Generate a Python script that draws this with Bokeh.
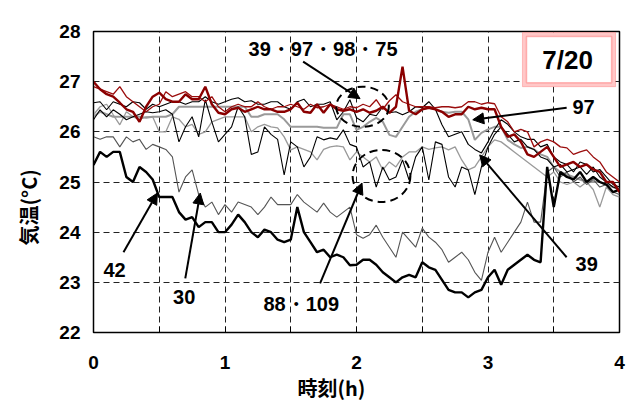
from bokeh.plotting import figure
from bokeh.models import Range1d, FixedTicker, Arrow, NormalHead, Label, BoxAnnotation, Title
from bokeh.embed import file_html
from bokeh.resources import INLINE

# sampling times: every 3 minutes over 4 hours
minutes = list(range(0, 241, 3))
hours = [m / 60 for m in minutes]

s42 = [25.34, 25.6, 25.5, 25.6, 25.6, 25.1, 25.0, 25.3, 25.2, 25.05,
       24.7, 24.7, 24.7, 24.4, 24.25, 24.3, 24.1, 24.2, 24.2, 24.0,
       24.0, 24.15, 24.35, 24.2, 24.0, 23.9, 24.05, 24.0, 23.85, 23.8,
       23.85, 24.5, 24.0, 23.8, 23.6, 23.65, 23.5, 23.55, 23.5, 23.34,
       23.35, 23.45, 23.45, 23.35, 23.2, 23.1, 23.0, 23.1, 23.15, 23.1,
       23.4, 23.3, 23.25, 23.05, 22.85, 22.8, 22.8, 22.7, 22.8, 22.85,
       23.1, 23.25, 22.95, 23.25, 23.35, 23.45, 23.55, 23.45, 23.4, 25.3,
       24.5, 25.2, 25.1, 25.05, 25.2, 25.0, 25.1, 25.0, 24.95, 24.8,
       24.85]

s30 = [25.9, 25.85, 25.9, 25.9, 25.7, 25.9, 25.8, 25.85, 25.65, 25.75,
       25.7, 25.65, 25.5, 24.8, 25.1, 25.24, 24.75, 24.5, 24.6, 24.35,
       24.55, 24.4, 24.6, 24.55, 24.5, 24.35, 24.5, 24.7, 24.55, 24.55,
       24.55, 24.75, 24.6, 24.5, 24.4, 24.58, 24.4, 24.3, 24.4, 24.5,
       23.95, 23.88, 23.95, 24.14, 23.9, 23.7, 23.5, 24.0, 23.85, 23.7,
       24.08, 23.9, 23.8, 23.65, 23.4, 23.5, 23.6, 23.45, 23.2, 23.04,
       23.6, 23.9, 23.6, 23.8, 24.0, 24.2, 24.6, 24.2, 24.2, 25.2,
       25.3, 25.1, 25.2, 25.0, 25.1, 24.95, 25.05, 24.9, 24.95, 24.8,
       24.75]

s88 = [26.24, 26.44, 26.3, 26.44, 26.35, 26.24, 26.3, 26.35, 26.4, 26.38,
       26.4, 26.44, 26.35, 25.8, 26.1, 26.3, 25.9, 26.64, 26.2, 25.8,
       25.95, 26.1, 26.5, 26.3, 25.55, 25.6, 26.1, 25.95, 25.85, 25.14,
       25.8, 25.7, 25.3, 25.5, 25.9, 25.84, 25.88, 25.85, 26.04, 25.75,
       25.7, 25.3, 25.4, 24.9, 25.3, 25.04, 25.1, 25.44, 25.04, 25.5,
       25.7, 25.04, 25.8, 25.75, 25.1, 24.9, 25.3, 25.24, 24.75, 25.3,
       25.7, 25.95, 26.1, 25.95, 25.8, 25.85, 25.7, 25.65, 25.5, 25.45,
       25.3, 25.35, 25.2, 25.25, 25.3, 25.15, 25.3, 25.1, 25.0, 24.9,
       24.85]

s109 = [26.34, 26.5, 26.55, 26.34, 26.14, 26.4, 26.3, 26.25, 26.3, 26.3,
        26.0, 26.0, 26.3, 26.25, 26.1, 26.15, 25.95, 26.0, 26.2, 26.25,
        26.3, 26.3, 26.3, 26.3, 26.0, 26.1, 26.15, 26.1, 26.08, 25.9,
        25.64, 25.7, 25.65, 25.6, 25.44, 25.65, 25.7, 25.72, 25.7, 25.44,
        25.6, 25.5, 25.4, 25.5, 25.24, 25.4, 25.3, 25.5, 25.6, 25.6,
        25.7, 25.65, 25.68, 25.7, 25.64, 25.7, 25.44, 25.24, 25.3, 25.5,
        25.7, 25.84, 25.8, 25.7, 25.6, 25.5, 25.4, 25.3, 25.2, 25.1,
        25.2, 25.0, 24.95, 25.0, 24.9, 25.0, 24.85, 24.5, 24.9, 24.75,
        24.7]

s97 = [26.3, 26.4, 26.35, 26.3, 26.3, 26.3, 26.3, 26.3, 26.28, 26.3,
       26.3, 26.3, 26.35, 26.5, 26.5, 26.5, 26.5, 26.5, 26.5, 26.5,
       26.5, 26.5, 26.5, 26.5, 26.3, 26.3, 26.35, 26.35, 26.35, 26.25,
       26.1, 26.1, 26.1, 26.1, 26.1, 26.08, 26.08, 26.08, 26.35, 26.35,
       26.04, 26.1, 26.2, 26.28, 26.2, 25.94, 25.9, 26.1, 26.3, 26.4,
       26.45, 26.48, 26.45, 26.4, 26.38, 26.4, 26.4, 26.25, 25.84, 25.98,
       26.05, 26.1, 26.1, 25.84, 25.75, 25.68, 25.7, 25.65, 25.55, 25.5,
       25.3, 25.2, 25.15, 25.1, 25.05, 25.0, 25.0, 25.0, 24.95, 24.9,
       24.85]

s39 = [26.58, 26.6, 26.44, 26.6, 26.55, 26.5, 26.6, 26.58, 26.45, 26.55,
       26.5, 26.55, 26.6, 26.6, 26.55, 26.6, 26.6, 26.7, 26.6, 26.55,
       26.6, 26.65, 26.68, 26.6, 26.62, 26.55, 26.55, 26.6, 26.6, 26.5,
       26.45, 26.6, 26.65, 26.5, 26.55, 26.55, 26.6, 26.24, 26.4, 26.64,
       26.28, 26.2, 26.35, 26.32, 26.5, 26.38, 26.4, 26.34, 26.4, 26.5,
       26.48, 26.6, 26.45, 26.14, 25.9, 25.95, 26.0, 25.75, 25.65, 25.58,
       25.8, 26.05, 26.24, 26.15, 26.0, 25.9, 25.85, 25.85, 25.7, 25.75,
       25.5, 25.4, 25.35, 25.2, 25.4, 25.35, 25.2, 25.25, 25.1, 24.95,
       24.9]

s98 = [27.0, 26.85, 26.75, 26.7, 26.58, 26.45, 26.4, 26.2, 26.5, 26.7,
       26.78, 26.65, 26.6, 26.6, 26.75, 26.65, 26.65, 26.9, 26.55, 26.38,
       26.35, 26.45, 26.48, 26.4, 26.45, 26.5, 26.45, 26.45, 26.4, 26.4,
       26.45, 26.58, 26.4, 26.38, 26.55, 26.38, 26.55, 26.45, 26.42, 26.45,
       26.4, 26.45, 26.38, 26.42, 26.5, 26.38, 26.5, 27.3, 26.42, 26.35,
       26.45, 26.48, 26.45, 26.4, 26.3, 26.35, 26.35, 26.5, 26.45, 26.48,
       26.45, 26.45, 26.1, 25.9, 25.95, 25.8, 25.55, 25.5, 25.6, 25.7,
       25.5, 25.3, 25.35, 25.4, 25.3, 25.35, 25.25, 25.2, 25.0, 25.0,
       24.8]

s75 = [26.9, 26.85, 26.8, 26.75, 26.9, 26.7, 26.6, 26.5, 26.4, 26.5,
       26.55, 26.8, 26.7, 26.75, 26.8, 26.7, 26.7, 26.6, 26.7, 26.5,
       26.4, 26.5, 26.55, 26.5, 26.5, 26.6, 26.5, 26.45, 26.5, 26.5,
       26.55, 26.5, 26.45, 26.55, 26.48, 26.5, 26.55, 26.5, 26.45, 26.5,
       26.48, 26.55, 26.5, 26.64, 26.45, 26.62, 26.74, 26.6, 26.55, 26.5,
       26.5, 26.5, 26.48, 26.5, 26.5, 26.48, 26.5, 26.6, 26.6, 26.55,
       26.58, 26.56, 26.3, 26.2, 26.0, 26.05, 26.0, 25.7, 25.8, 25.85,
       25.8, 25.7, 25.68, 25.55, 25.6, 25.64, 25.5, 25.4, 25.2, 25.1,
       25.0]

x_ticks = [0, 1, 2, 3, 4]
x_half = [0.5, 1.5, 2.5, 3.5]
y_ticks = [22, 23, 24, 25, 26, 27, 28]

CJK = "Noto Sans CJK JP"

p = figure(width=634, height=403, x_range=Range1d(0, 4), y_range=Range1d(22, 28),
           output_backend="svg", toolbar_location=None,
           min_border_left=93, min_border_right=15, min_border_top=31, min_border_bottom=71)
p.background_fill_color = "white"
p.outline_line_color = "black"
p.outline_line_width = 1.5

xa = p.xaxis[0]
xa.ticker = FixedTicker(ticks=x_ticks, minor_ticks=x_half)
xa.major_tick_in = 6
xa.major_tick_out = 0
xa.minor_tick_in = 6
xa.minor_tick_out = 0
xa.axis_line_color = "black"
xa.major_label_standoff = 23
xa.major_label_text_font = "Liberation Sans"
xa.major_label_text_font_style = "bold"
xa.major_label_text_font_size = "19px"
xa.major_label_text_color = "black"

ya = p.yaxis[0]
ya.ticker = FixedTicker(ticks=y_ticks)
ya.major_tick_in = 0
ya.major_tick_out = 0
ya.minor_tick_line_color = None
ya.axis_line_color = "black"
ya.major_label_standoff = 13
ya.major_label_text_font = "Liberation Sans"
ya.major_label_text_font_style = "bold"
ya.major_label_text_font_size = "19px"
ya.major_label_text_color = "black"

# axis titles, placed slightly off-centre like the original
p.add_layout(Title(text="時刻(h)", align="left", offset=204, standoff=0,
                   vertical_align="middle", text_font=CJK, text_font_style="bold",
                   text_font_size="20px", text_color="black"), "below")
p.add_layout(Title(text="気温(°C)", align="left", offset=87, standoff=25,
                   vertical_align="middle", text_font=CJK, text_font_style="bold",
                   text_font_size="20px", text_color="black"), "left")

p.xgrid.ticker = FixedTicker(ticks=[0.5, 1, 1.5, 2, 2.5, 3, 3.5])
p.ygrid.ticker = FixedTicker(ticks=[23, 24, 25, 26, 27])
for g in (p.xgrid[0], p.ygrid[0]):
    g.grid_line_color = "#222222"
    g.grid_line_dash = "6 4"
    g.grid_line_width = 1

# series
p.line(hours, s109, line_color="#9a9a9a", line_width=1.3)
p.line(hours, s97, line_color="#9a9a9a", line_width=2)
p.line(hours, s30, line_color="#555555", line_width=1.1)
p.line(hours, s88, line_color="black", line_width=1.1)
p.line(hours, s39, line_color="black", line_width=1.1)
p.line(hours, s42, line_color="black", line_width=2.4)
p.line(hours, s75, line_color="#9b0d0d", line_width=1.3)
p.line(hours, s98, line_color="#8b0000", line_width=2.4)

# dashed circles
p.ellipse(x=[2.046], y=[26.5], width=[0.40], height=[0.8], fill_color=None,
          line_color="black", line_width=2, line_dash="8 5")
p.ellipse(x=[2.19], y=[25.12], width=[0.44], height=[1.04], fill_color=None,
          line_color="black", line_width=2, line_dash="8 5")

# arrows
arrows = [
    (1.594, 27.4, 2.027, 26.66),
    (3.598, 26.48, 2.884, 26.24),
    (3.598, 23.5, 2.937, 25.54),
    (0.228, 23.6, 0.486, 24.78),
    (0.698, 23.08, 0.812, 24.78),
    (1.723, 22.98, 2.042, 24.98),
]
for x0, y0, x1, y1 in arrows:
    p.add_layout(Arrow(end=NormalHead(size=11, fill_color="black", line_color="black"),
                       x_start=x0, y_start=y0, x_end=x1, y_end=y1,
                       line_color="black", line_width=2))

labels = [
    ("39・97・98・75", 1.746, 27.65),
    ("97", 3.727, 26.49),
    ("39", 3.75, 23.36),
    ("42", 0.16, 23.24),
    ("30", 0.69, 22.7),
    ("88・109", 1.58, 22.56),
]
for txt, lx, ly in labels:
    p.add_layout(Label(x=lx, y=ly, text=txt, text_align="center", text_baseline="middle",
                       text_font="Liberation Sans", text_font_style="bold",
                       text_font_size="20px", text_color="black"))

# date box
p.add_layout(BoxAnnotation(left=3.262, right=3.97, top=27.98, bottom=26.9,
                           fill_color="#ffc8c8", fill_alpha=1, line_color="#ff5050", line_width=1))
p.add_layout(BoxAnnotation(left=3.293, right=3.94, top=27.9, bottom=26.98,
                           fill_color="white", fill_alpha=1, line_color="#ff2a2a", line_width=1.5))
p.add_layout(Label(x=3.605, y=27.44, text="7/20", text_align="center", text_baseline="middle",
                   text_font="Liberation Sans", text_font_style="bold",
                   text_font_size="26px", text_color="black"))

open("out.html", "w").write(file_html(p, INLINE))
